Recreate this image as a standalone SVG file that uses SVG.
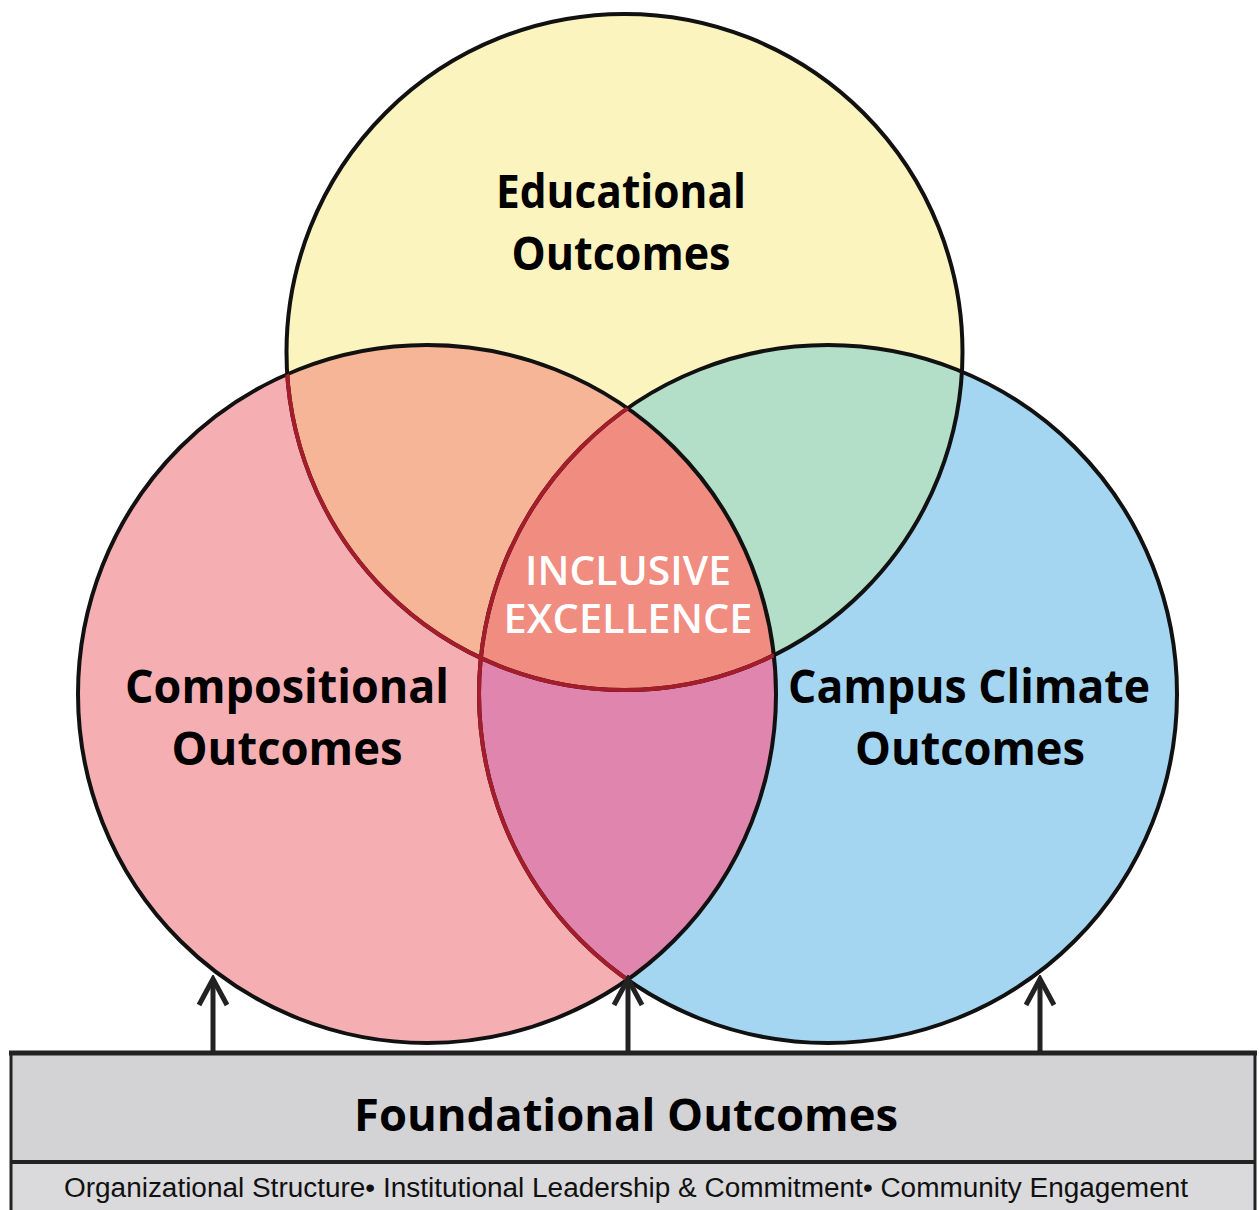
<svg xmlns="http://www.w3.org/2000/svg" width="1259" height="1210" viewBox="0 0 1259 1210">
  <style>
    .lbl { font-family: "Open Sans", "Liberation Sans", sans-serif; font-weight: 700; fill: #000; text-anchor: middle; }
    .ie { font-family: "Open Sans", "Liberation Sans", sans-serif; font-weight: 600; fill: #fff; text-anchor: middle; }
    .sub { font-family: "Liberation Sans", Arial, sans-serif; fill: #111; text-anchor: middle; }
    .outline { fill: none; stroke: #111; stroke-width: 4; }
    .redline { fill: none; stroke: #a51c2b; stroke-width: 4; }
    .arrow { fill: none; stroke: #222; stroke-width: 5; }
  </style>
  <defs>
    <circle id="cT" cx="624.5" cy="352" r="338"/>
    <circle id="cL" cx="427" cy="694" r="349"/>
    <circle id="cR" cx="828" cy="694" r="349"/>
    <clipPath id="clipT"><use href="#cT"/></clipPath>
    <clipPath id="clipL"><use href="#cL"/></clipPath>
    <clipPath id="clipR"><use href="#cR"/></clipPath>
    <marker id="chev" viewBox="0 0 34 34" refX="30" refY="17" markerWidth="34" markerHeight="34" markerUnits="userSpaceOnUse" orient="auto">
      <path d="M4,3 L30,17 L4,31" fill="none" stroke="#222" stroke-width="5"/>
    </marker>
  </defs>
  <rect x="0" y="0" width="1259" height="1210" fill="#fff"/>

  <g id="venn-fills">
    <use href="#cT" fill="#fcf4be"/>
    <use href="#cL" fill="#f5afb3"/>
    <use href="#cR" fill="#a4d5f1"/>
    <g clip-path="url(#clipT)"><use href="#cL" fill="#f6b596"/></g>
    <g clip-path="url(#clipT)"><use href="#cR" fill="#b3dec7"/></g>
    <g clip-path="url(#clipL)"><use href="#cR" fill="#e086ae"/></g>
    <g clip-path="url(#clipT)"><g clip-path="url(#clipL)"><use href="#cR" fill="#f08c80"/></g></g>
  </g>

  <g id="venn-outlines">
    <use href="#cT" class="outline"/>
    <use href="#cL" class="outline"/>
    <use href="#cR" class="outline"/>
    <g clip-path="url(#clipL)">
      <use href="#cT" class="redline"/>
      <use href="#cR" class="redline"/>
    </g>
  </g>

  <g id="node-educational">
    <text class="lbl" x="621" y="208" font-size="46" textLength="250" lengthAdjust="spacingAndGlyphs">Educational</text>
    <text class="lbl" x="621" y="270" font-size="46" textLength="219" lengthAdjust="spacingAndGlyphs">Outcomes</text>
  </g>
  <g id="node-compositional">
    <text class="lbl" x="287" y="703" font-size="46" textLength="324" lengthAdjust="spacingAndGlyphs">Compositional</text>
    <text class="lbl" x="287" y="765" font-size="46" textLength="231" lengthAdjust="spacingAndGlyphs">Outcomes</text>
  </g>
  <g id="node-campus">
    <text class="lbl" x="969" y="703" font-size="46" textLength="362" lengthAdjust="spacingAndGlyphs">Campus Climate</text>
    <text class="lbl" x="970" y="765" font-size="46" textLength="230" lengthAdjust="spacingAndGlyphs">Outcomes</text>
  </g>
  <g id="node-inclusive">
    <text class="ie" x="628" y="585" font-size="39" textLength="206" lengthAdjust="spacingAndGlyphs">INCLUSIVE</text>
    <text class="ie" x="628" y="633" font-size="39" textLength="249" lengthAdjust="spacingAndGlyphs">EXCELLENCE</text>
  </g>

  <g id="connectors">
    <line class="arrow" x1="213" y1="1053" x2="213" y2="979" marker-end="url(#chev)"/>
    <line class="arrow" x1="628" y1="1053" x2="628" y2="979" marker-end="url(#chev)"/>
    <line class="arrow" x1="1040" y1="1053" x2="1040" y2="979" marker-end="url(#chev)"/>
  </g>

  <g id="node-foundational">
    <rect x="11" y="1053" width="1244" height="109" fill="#d3d3d5"/>
    <rect x="11" y="1162" width="1244" height="50" fill="#dadadc"/>
    <line x1="11" y1="1053" x2="11" y2="1212" stroke="#222" stroke-width="3"/>
    <line x1="1255" y1="1053" x2="1255" y2="1212" stroke="#222" stroke-width="3"/>
    <line x1="9" y1="1053" x2="1257" y2="1053" stroke="#222" stroke-width="5"/>
    <line x1="11" y1="1162" x2="1255" y2="1162" stroke="#222" stroke-width="4"/>
    <text class="lbl" x="626" y="1131" font-size="44" textLength="544" lengthAdjust="spacingAndGlyphs">Foundational Outcomes</text>
    <text class="sub" x="626" y="1197" font-size="27" textLength="1124" lengthAdjust="spacingAndGlyphs">Organizational Structure• Institutional Leadership &amp; Commitment• Community Engagement</text>
  </g>
</svg>
